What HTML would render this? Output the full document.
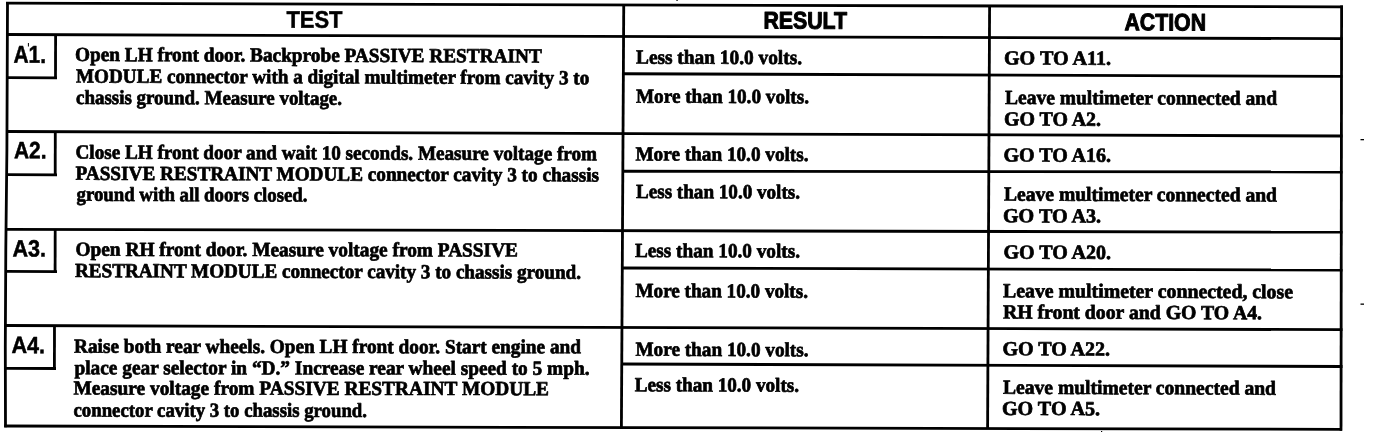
<!DOCTYPE html>
<html lang="en">
<head>
<meta charset="utf-8">
<title>Pinpoint Test A</title>
<style>
html,body{margin:0;padding:0;background:#fff;}
body{width:1376px;height:432px;overflow:hidden;position:relative;}
svg{position:absolute;left:0;top:0;display:block;}
.rule line{stroke:#000;stroke-width:2.8;stroke-linecap:butt;}
.serif text{font-family:"Liberation Serif","Times New Roman",serif;font-weight:bold;font-size:20px;fill:#000;stroke:#000;stroke-width:0.7px;stroke-linejoin:round;}
.sans text{font-family:"Liberation Sans",Arial,Helvetica,sans-serif;font-weight:bold;fill:#000;stroke:#000;stroke-width:0.5px;stroke-linejoin:round;}
</style>
</head>
<body>
<svg width="1376" height="432" viewBox="0 0 1376 432">

<g class="rule">
<line x1="6" y1="3.2" x2="1343" y2="6.9"/>
<line x1="6.5" y1="34.5" x2="1343" y2="38.7"/>
<line x1="6.5" y1="131.5" x2="1342.5" y2="136.0"/>
<line x1="5.0" y1="229.4" x2="1342.5" y2="232.2"/>
<line x1="5.5" y1="325.5" x2="1342.5" y2="329.7"/>
<line x1="4.2" y1="426.0" x2="1342" y2="429.4"/>
<line x1="623.2" y1="73.75" x2="1342.5" y2="76.4"/>
<line x1="622.8" y1="171.25" x2="1342.5" y2="172.0"/>
<line x1="622.4" y1="268.0" x2="1342.5" y2="270.0"/>
<line x1="622.0" y1="364.0" x2="1342.5" y2="366.5"/>
<line x1="7" y1="77.7" x2="57" y2="77.9"/>
<line x1="7" y1="174.7" x2="57" y2="174.9"/>
<line x1="6" y1="271.4" x2="57" y2="271.6"/>
<line x1="5.5" y1="368.3" x2="56" y2="368.5"/>
<line x1="623.75" y1="4" x2="621.4" y2="427.5"/>
<line x1="989.6" y1="5" x2="987.6" y2="428.5"/>
<line x1="1341.6" y1="5.5" x2="1341.0" y2="430.7"/>
<line x1="55.6" y1="34" x2="55.5" y2="78.5"/>
<line x1="55.3" y1="131" x2="55.2" y2="176"/>
<line x1="55.2" y1="229" x2="55.1" y2="272.5"/>
<line x1="54.5" y1="326" x2="54.4" y2="369.5"/>
<polyline fill="none" stroke="#000" stroke-width="2.8" points="7.5,2 6.9,150 5.8,250 5.3,347 5.5,427.3"/>
</g>
<g class="sans">
<text x="286.49" y="27.7" font-size="24" textLength="56.02" lengthAdjust="spacingAndGlyphs" transform="rotate(0.19 286.49 27.7)">TEST</text>
<text x="763.49" y="28.5" font-size="24" style="stroke-width:1.1px" textLength="83.51" lengthAdjust="spacingAndGlyphs" transform="rotate(0.19 763.49 28.5)">RESULT</text>
<text x="1124.49" y="30.3" font-size="24" style="stroke-width:1.0px" textLength="81.53" lengthAdjust="spacingAndGlyphs" transform="rotate(0.19 1124.49 30.3)">ACTION</text>
<text x="13.5" y="62.8" font-size="24.5" textLength="32.56" lengthAdjust="spacingAndGlyphs" transform="rotate(0.19 13.5 62.8)">A1.</text>
<text x="14.0" y="158.3" font-size="23.5" textLength="32.56" lengthAdjust="spacingAndGlyphs" transform="rotate(0.19 14.0 158.3)">A2.</text>
<text x="12.48" y="256.4" font-size="23.5" textLength="33.57" lengthAdjust="spacingAndGlyphs" transform="rotate(0.19 12.48 256.4)">A3.</text>
<text x="11.45" y="353.1" font-size="23.5" textLength="33.61" lengthAdjust="spacingAndGlyphs" transform="rotate(0.19 11.45 353.1)">A4.</text>
</g>
<g class="serif">
<text x="75.0" y="61.0" textLength="466.75" lengthAdjust="spacingAndGlyphs" transform="rotate(0.19 75.0 61.0)">Open LH front door. Backprobe PASSIVE RESTRAINT</text>
<text x="76.0" y="82.6" textLength="513.25" lengthAdjust="spacingAndGlyphs" transform="rotate(0.19 76.0 82.6)">MODULE connector with a digital multimeter from cavity 3 to</text>
<text x="76.0" y="103.9" textLength="266.0" lengthAdjust="spacingAndGlyphs" transform="rotate(0.19 76.0 103.9)">chassis ground. Measure voltage.</text>
<text x="75.5" y="158.6" textLength="521.5" lengthAdjust="spacingAndGlyphs" transform="rotate(0.19 75.5 158.6)">Close LH front door and wait 10 seconds. Measure voltage from</text>
<text x="75.5" y="179.8" textLength="523.5" lengthAdjust="spacingAndGlyphs" transform="rotate(0.19 75.5 179.8)">PASSIVE RESTRAINT MODULE connector cavity 3 to chassis</text>
<text x="76.5" y="200.8" textLength="231.0" lengthAdjust="spacingAndGlyphs" transform="rotate(0.19 76.5 200.8)">ground with all doors closed.</text>
<text x="75.5" y="255.8" textLength="442.51" lengthAdjust="spacingAndGlyphs" transform="rotate(0.1 75.5 255.8)">Open RH front door. Measure voltage from PASSIVE</text>
<text x="75.0" y="277.1" textLength="506.0" lengthAdjust="spacingAndGlyphs" transform="rotate(0.19 75.0 277.1)">RESTRAINT MODULE connector cavity 3 to chassis ground.</text>
<text x="74.0" y="352.75" textLength="507.0" lengthAdjust="spacingAndGlyphs" transform="rotate(0.07 74.0 352.75)">Raise both rear wheels. Open LH front door. Start engine and</text>
<text x="74.5" y="374.2" textLength="515.0" lengthAdjust="spacingAndGlyphs" transform="rotate(0.07 74.5 374.2)">place gear selector in “D.” Increase rear wheel speed to 5 mph.</text>
<text x="73.5" y="394.6" textLength="475.5" lengthAdjust="spacingAndGlyphs" transform="rotate(0.07 73.5 394.6)">Measure voltage from PASSIVE RESTRAINT MODULE</text>
<text x="73.5" y="416.6" textLength="293.51" lengthAdjust="spacingAndGlyphs" transform="rotate(0.07 73.5 416.6)">connector cavity 3 to chassis ground.</text>
<text x="636.0" y="63.6" textLength="166.01" lengthAdjust="spacingAndGlyphs" transform="rotate(0.19 636.0 63.6)">Less than 10.0 volts.</text>
<text x="636.0" y="102.7" textLength="173.01" lengthAdjust="spacingAndGlyphs" transform="rotate(0.19 636.0 102.7)">More than 10.0 volts.</text>
<text x="635.5" y="160.4" textLength="173.0" lengthAdjust="spacingAndGlyphs" transform="rotate(0.19 635.5 160.4)">More than 10.0 volts.</text>
<text x="636.0" y="198" textLength="164.0" lengthAdjust="spacingAndGlyphs" transform="rotate(0.19 636.0 198)">Less than 10.0 volts.</text>
<text x="635.0" y="257" textLength="165.0" lengthAdjust="spacingAndGlyphs" transform="rotate(0.19 635.0 257)">Less than 10.0 volts.</text>
<text x="635.5" y="297.1" textLength="172.5" lengthAdjust="spacingAndGlyphs" transform="rotate(0.19 635.5 297.1)">More than 10.0 volts.</text>
<text x="635.5" y="355.75" textLength="173.0" lengthAdjust="spacingAndGlyphs" transform="rotate(0.19 635.5 355.75)">More than 10.0 volts.</text>
<text x="634.75" y="391.2" textLength="164.25" lengthAdjust="spacingAndGlyphs" transform="rotate(0.19 634.75 391.2)">Less than 10.0 volts.</text>
<text x="1003.99" y="64.5" textLength="107.04" lengthAdjust="spacingAndGlyphs" transform="rotate(0.19 1003.99 64.5)">GO TO A11.</text>
<text x="1005.0" y="104" textLength="272.0" lengthAdjust="spacingAndGlyphs" transform="rotate(0.19 1005.0 104)">Leave multimeter connected and</text>
<text x="1003.98" y="125.5" textLength="97.03" lengthAdjust="spacingAndGlyphs" transform="rotate(0.19 1003.98 125.5)">GO TO A2.</text>
<text x="1003.49" y="161.5" textLength="107.53" lengthAdjust="spacingAndGlyphs" transform="rotate(0.19 1003.49 161.5)">GO TO A16.</text>
<text x="1004.0" y="200.6" textLength="273.0" lengthAdjust="spacingAndGlyphs" transform="rotate(0.19 1004.0 200.6)">Leave multimeter connected and</text>
<text x="1002.99" y="222.3" textLength="98.03" lengthAdjust="spacingAndGlyphs" transform="rotate(0.19 1002.99 222.3)">GO TO A3.</text>
<text x="1003.49" y="258.6" textLength="107.52" lengthAdjust="spacingAndGlyphs" transform="rotate(0.19 1003.49 258.6)">GO TO A20.</text>
<text x="1003.0" y="297.3" textLength="290.0" lengthAdjust="spacingAndGlyphs" transform="rotate(0.19 1003.0 297.3)">Leave multimeter connected, close</text>
<text x="1003.0" y="318.5" textLength="259.01" lengthAdjust="spacingAndGlyphs" transform="rotate(0.19 1003.0 318.5)">RH front door and GO TO A4.</text>
<text x="1002.48" y="355.25" textLength="107.53" lengthAdjust="spacingAndGlyphs" transform="rotate(0.19 1002.48 355.25)">GO TO A22.</text>
<text x="1003.0" y="393.8" textLength="273.0" lengthAdjust="spacingAndGlyphs" transform="rotate(0.19 1003.0 393.8)">Leave multimeter connected and</text>
<text x="1001.98" y="414.9" textLength="98.04" lengthAdjust="spacingAndGlyphs" transform="rotate(0.19 1001.98 414.9)">GO TO A5.</text>
</g>
<rect x="1360.5" y="139" width="3.5" height="1.3" fill="#000"/>
<rect x="1360.5" y="303.5" width="3.5" height="1.3" fill="#000"/>
<rect x="27.9" y="43" width="1" height="3.5" fill="#000"/>
<rect x="676.4" y="0" width="1.3" height="1" fill="#000"/>
<rect x="1101" y="431" width="1.2" height="1" fill="#000"/>
</svg>
</body>
</html>
